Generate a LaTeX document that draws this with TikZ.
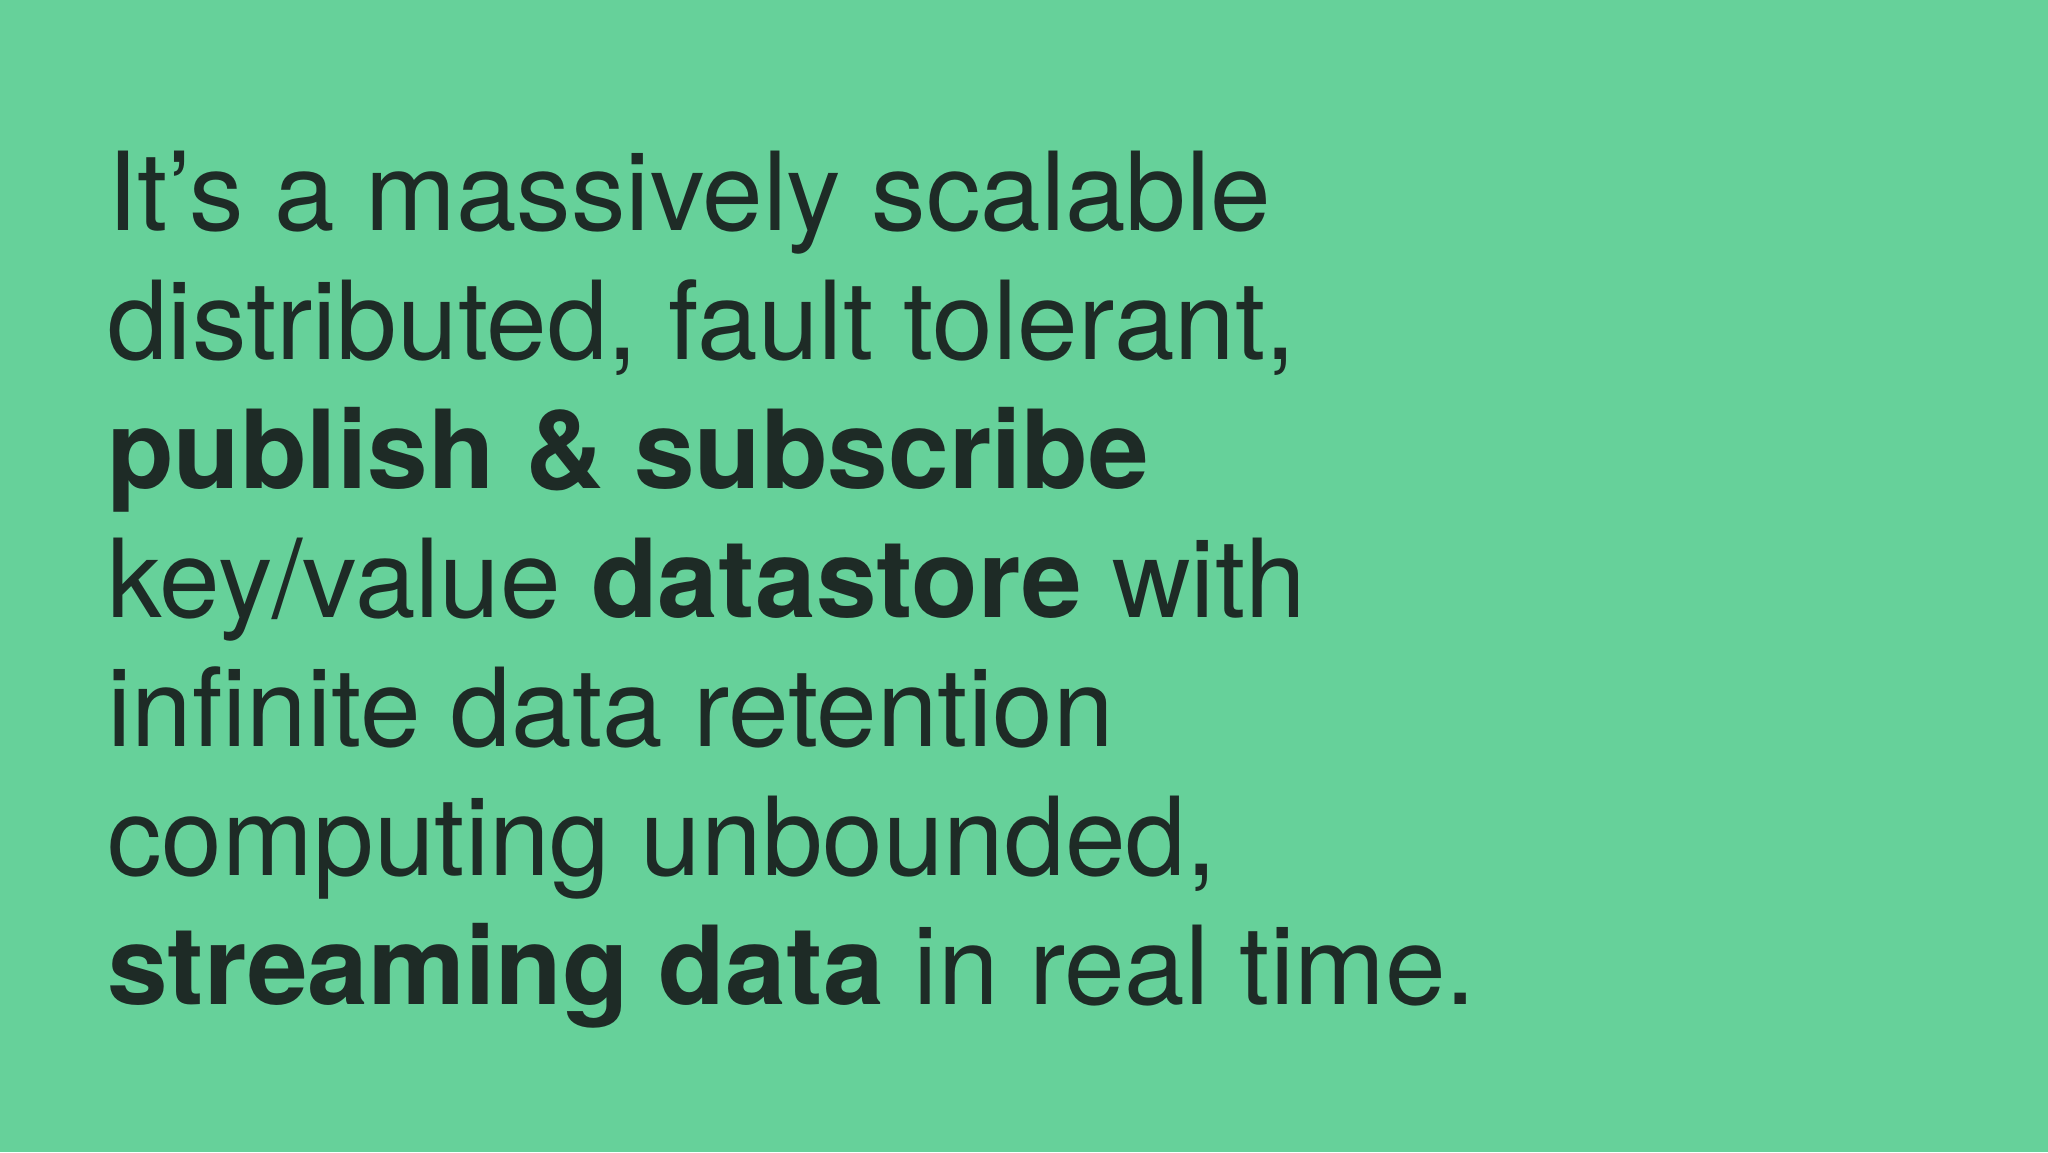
\documentclass[tikz,border=0pt]{standalone}
\usepackage{fontspec}
\setmainfont{TeX Gyre Heros}
\definecolor{bg}{HTML}{66D19A}
\definecolor{ink}{HTML}{1E2B26}
\tikzset{line/.style={anchor=base west,inner sep=0pt,text=ink,font=\fontsize{109pt}{129pt}\selectfont}}
\begin{document}
\begin{tikzpicture}[x=1pt,y=1pt]
\fill[bg] (0,0) rectangle (2048,-1152);
\useasboundingbox (0,0) rectangle (2048,-1152);
\node[line] (l1) at (107,-230) {It’s a massively scalable};
\node[line] (l2) at (107,-359) {distributed, fault tolerant,};
\node[line] (l3) at (107,-488) {\textbf{publish \& subscribe}};
\node[line] (l4) at (107,-617) {key/value \textbf{datastore} with};
\node[line] (l5) at (107,-746) {infinite data retention};
\node[line] (l6) at (107,-875) {computing unbounded,};
\node[line] (l7) at (107,-1004) {\textbf{streaming data} in real time.};
\end{tikzpicture}
\end{document}
